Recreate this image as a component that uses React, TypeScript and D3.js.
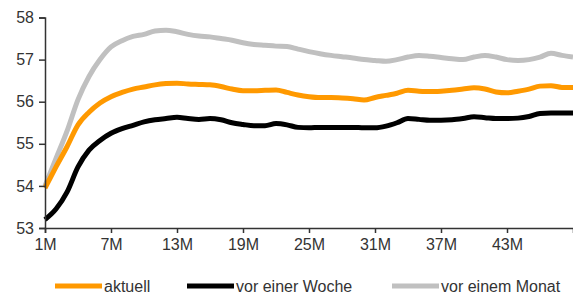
import React, { useEffect, useRef } from 'react';
import * as d3 from 'd3';

// Laufzeiten 1M .. 49M
const months: number[] = d3.range(1, 50);

const aktuell: number[] = [
  53.95, 54.45, 54.93, 55.45, 55.75, 55.97, 56.12, 56.22, 56.3, 56.35,
  56.4, 56.43, 56.44, 56.42, 56.41, 56.4, 56.36, 56.3, 56.26, 56.26,
  56.27, 56.28, 56.22, 56.16, 56.12, 56.1, 56.1, 56.09, 56.07, 56.04,
  56.1, 56.15, 56.2, 56.27, 56.25, 56.24, 56.25, 56.27, 56.3, 56.33,
  56.3, 56.23, 56.21, 56.25, 56.3, 56.37, 56.38, 56.34, 56.34,
];

const vorWoche: number[] = [
  53.2, 53.45, 53.85, 54.45, 54.85, 55.08, 55.25, 55.36, 55.44, 55.52,
  55.57, 55.6, 55.63, 55.6, 55.58, 55.6, 55.57, 55.5, 55.46, 55.43,
  55.43, 55.48, 55.45, 55.39, 55.38, 55.39, 55.39, 55.39, 55.39, 55.38,
  55.38, 55.42, 55.5, 55.6, 55.58, 55.56, 55.56, 55.57, 55.6, 55.64,
  55.62, 55.6, 55.6, 55.61, 55.65, 55.72, 55.73, 55.73, 55.73,
];

const vorMonat: number[] = [
  54.0, 54.65, 55.3, 56.05, 56.6, 57.0, 57.3, 57.45, 57.55, 57.6,
  57.68, 57.7, 57.66, 57.6, 57.56, 57.54, 57.5, 57.46, 57.4, 57.36,
  57.34, 57.32, 57.31, 57.25, 57.19, 57.14, 57.1, 57.07, 57.04, 57.0,
  56.98, 56.96, 57.0, 57.06, 57.1, 57.08, 57.05, 57.02, 57.0, 57.06,
  57.1, 57.06, 57.0, 56.98, 57.0, 57.06, 57.15, 57.1, 57.06,
];

const yTicks: number[] = [53, 54, 55, 56, 57, 58];
const xTicks: number[] = [1, 7, 13, 19, 25, 31, 37, 43];

const seriesNames: string[] = ['aktuell', 'vor einer Woche', 'vor einem Monat'];
const seriesColors: string[] = ['#ff9900', '#000000', '#c0c0c0'];

const App = () => {
  const chartRef = useRef<SVGSVGElement>(null);

  useEffect(() => {
    const svg = d3.select(chartRef.current);
    svg.selectAll('*').remove();

    const font = '"Liberation Sans", Arial, sans-serif';

    const x = d3.scaleLinear().domain([1, 49]).range([45, 573]);
    const y = d3.scaleLinear().domain([53, 58]).range([228, 17.5]);

    const series = [vorMonat, aktuell, vorWoche];
    const colors = [seriesColors[2], seriesColors[0], seriesColors[1]];

    const line = d3.line<number>()
      .x((_, i) => x(months[i]))
      .y(d => y(d))
      .curve(d3.curveMonotoneX);

    // Linien
    series.forEach((values, k) => {
      svg.append('path')
        .datum(values)
        .attr('fill', 'none')
        .attr('stroke', colors[k])
        .attr('stroke-width', 5)
        .attr('stroke-linejoin', 'round')
        .attr('d', line);
    });

    // Y-Achse
    const yAxis = svg.append('g')
      .attr('transform', `translate(${x(1)},0)`)
      .call(d3.axisLeft(y).tickValues(yTicks).tickSize(6).tickPadding(5).tickFormat(d3.format('d')));

    // X-Achse
    const xAxis = svg.append('g')
      .attr('transform', `translate(0,${y(53)})`)
      .call(d3.axisBottom(x).tickValues(xTicks).tickSize(5).tickPadding(6).tickFormat(d => `${d}M`));

    [yAxis, xAxis].forEach(g => {
      g.select('.domain').attr('stroke', '#333').attr('stroke-width', 1.5);
      g.selectAll('.tick line').attr('stroke', '#333').attr('stroke-width', 1.5);
      g.selectAll('.tick text')
        .attr('fill', '#333')
        .style('font-family', font)
        .style('font-size', '16px');
    });

    // Legende
    const legendX = [55, 187, 392];
    seriesNames.forEach((name, i) => {
      svg.append('line')
        .attr('x1', legendX[i])
        .attr('x2', legendX[i] + 47)
        .attr('y1', 286)
        .attr('y2', 286)
        .attr('stroke', seriesColors[i])
        .attr('stroke-width', 5);
      svg.append('text')
        .attr('x', legendX[i] + 49)
        .attr('y', 291.5)
        .attr('fill', '#333')
        .style('font-family', font)
        .style('font-size', '16px')
        .text(name);
    });
  }, []);

  return (
    <svg
      ref={chartRef}
      width={573}
      height={300}
      style={{ position: 'absolute', left: 0, top: 0, background: '#fff' }}
    />
  );
};

export default App;
